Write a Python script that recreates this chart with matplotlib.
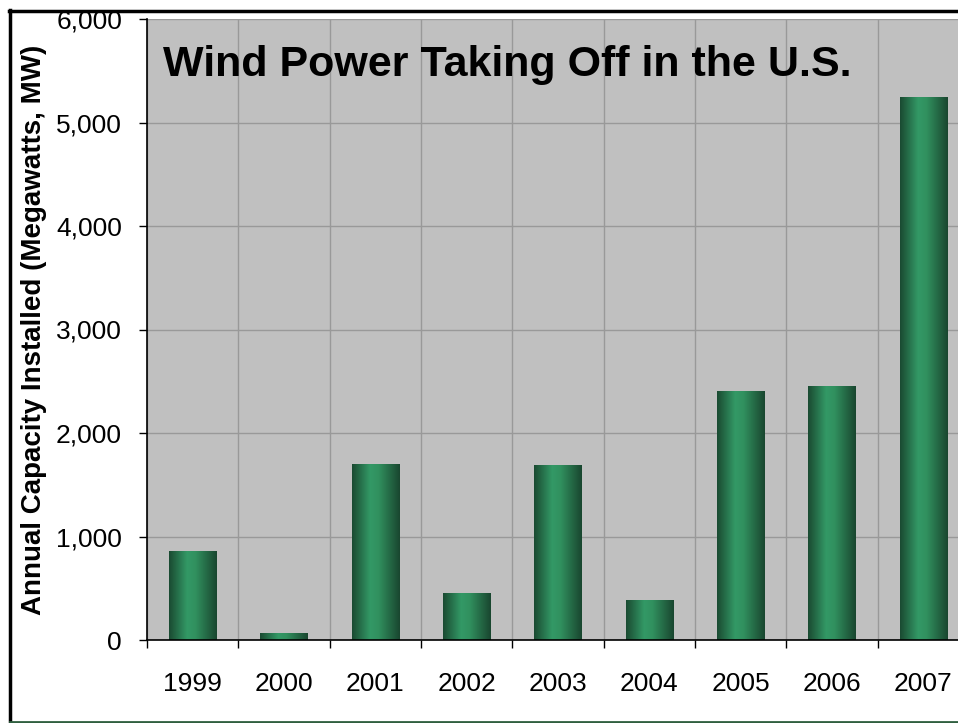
import numpy as np
import matplotlib
matplotlib.use("Agg")
import matplotlib.pyplot as plt
from matplotlib.colors import LinearSegmentedColormap
from matplotlib.lines import Line2D

years = ["1999", "2000", "2001", "2002", "2003", "2004", "2005", "2006", "2007"]
capacity_mw = [860, 67, 1700, 454, 1687, 389, 2402, 2454, 5244]
y_ticks = [0, 1000, 2000, 3000, 4000, 5000, 6000]
y_tick_labels = ["0", "1,000", "2,000", "3,000", "4,000", "5,000", "6,000"]
title = "Wind Power Taking Off in the U.S."
ylabel = "Annual Capacity Installed (Megawatts, MW)"

plt.rcParams['font.family'] = ['Liberation Sans', 'DejaVu Sans']

W, H = 958, 723
fig = plt.figure(figsize=(W / 100, H / 100), dpi=100)
fig.patch.set_facecolor("white")

left_px, right_px, top_px, bottom_px = 147, 969, 19, 640
ax = fig.add_axes([left_px / W, 1 - bottom_px / H,
                   (right_px - left_px) / W, (bottom_px - top_px) / H])
ax.set_facecolor("#C0C0C0")

x = np.arange(len(years))
bars = ax.bar(x, capacity_mw, width=0.515, color="none", edgecolor="none", zorder=3)

cmap = LinearSegmentedColormap.from_list(
    "cyl", [(0.0, "#1A4A31"), (0.38, "#339966"), (0.55, "#31915F"), (1.0, "#19462F")])
grad = np.linspace(0, 1, 256).reshape(1, -1)
for b in bars:
    x0, w, h = b.get_x(), b.get_width(), b.get_height()
    im = ax.imshow(grad, cmap=cmap, aspect="auto", extent=[x0, x0 + w, 0, h],
                   zorder=3, interpolation="bilinear")
    im.set_clip_path(b)

ax.set_xlim(-0.5, len(years) - 0.5)
ax.set_ylim(0, 6000)

ax.set_yticks(y_ticks)
ax.set_yticklabels(y_tick_labels, fontsize=19)
ax.set_xticks(np.arange(-0.5, len(years), 1.0))
ax.set_xticklabels([])
ax.set_xticks(x, minor=True)
ax.set_xticklabels(years, minor=True, fontsize=19)
ax.tick_params(axis="x", which="minor", length=0, pad=23)
ax.tick_params(axis="x", which="major", length=6, width=1, color="black", direction="out")
ax.tick_params(axis="y", which="major", length=6, width=1, color="black", direction="out", pad=12)

ax.grid(True, axis="both", which="major", color="#999999", linewidth=1, zorder=1)
ax.set_axisbelow(True)

for s in ["top", "right"]:
    ax.spines[s].set_visible(False)
for s in ["left", "bottom"]:
    ax.spines[s].set_color("black")
    ax.spines[s].set_linewidth(1.2)
    ax.spines[s].set_zorder(4)

ax.text((163 - left_px) / (right_px - left_px), 1 - (65 - top_px) / (bottom_px - top_px),
        title, transform=ax.transAxes, fontsize=31, fontweight="bold",
        ha="left", va="center", zorder=5)

fig.text(34 / W, 1 - 330 / H, ylabel, rotation=90, fontsize=20, fontweight="bold",
         ha="center", va="center")

# outer frame
fig.add_artist(Line2D([10 / W, 10 / W], [1 - 722 / H, 1 - 10 / H], color="black",
                      linewidth=2.5, transform=fig.transFigure))
fig.add_artist(Line2D([9 / W, 1.0], [1 - 11 / H, 1 - 11 / H], color="black",
                      linewidth=2.5, transform=fig.transFigure))
fig.add_artist(Line2D([10 / W, 1.0], [1 - 721.5 / H, 1 - 721.5 / H], color="#2F5F3F",
                      linewidth=2, transform=fig.transFigure))

fig.savefig("out.png", dpi=100)
